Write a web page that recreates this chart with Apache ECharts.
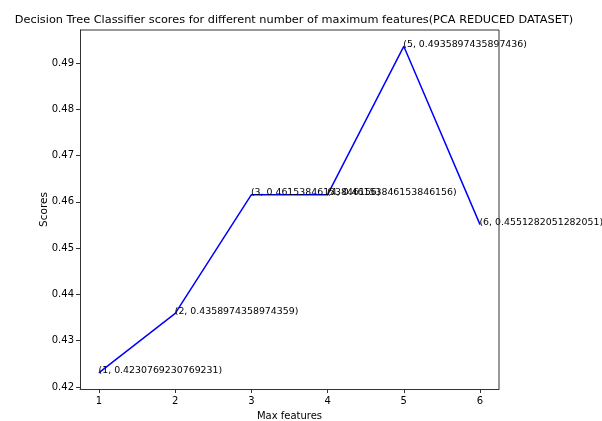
<!DOCTYPE html>
<html>
<head>
<meta charset="utf-8">
<script src="https://cdn.jsdelivr.net/npm/echarts@6/dist/echarts.min.js"></script>
<style>
  html, body { margin: 0; padding: 0; background: #fff; }
  #chart { width: 602px; height: 421px; }
</style>
</head>
<body>
<div id="chart"></div>
<script>
// Decision tree accuracy for each max_features setting
const maxFeatures = [1, 2, 3, 4, 5, 6];
const scores = [
  0.4230769230769231,
  0.4358974358974359,
  0.46153846153846156,
  0.46153846153846156,
  0.4935897435897436,
  0.4551282051282051
];
const xTicks = [1, 2, 3, 4, 5, 6];
const yTicks = [0.42, 0.43, 0.44, 0.45, 0.46, 0.47, 0.48, 0.49];

// 5% padding around the data range on both axes
const xPad = (Math.max(...maxFeatures) - Math.min(...maxFeatures)) * 0.05;
const yPad = (Math.max(...scores) - Math.min(...scores)) * 0.05;
const xMin = Math.min(...maxFeatures) - xPad, xMax = Math.max(...maxFeatures) + xPad;
const yMin = Math.min(...scores) - yPad, yMax = Math.max(...scores) + yPad;

const FONT = 'DejaVu Sans';
const axisColor = '#333';

const chart = echarts.init(document.getElementById('chart'), null, { renderer: 'canvas' });
chart.setOption({
  animation: false,
  backgroundColor: '#fff',
  title: {
    text: 'Decision Tree Classifier scores for different number of maximum features(PCA REDUCED DATASET)',
    left: 289, textAlign: 'center', top: 10,
    textStyle: { fontFamily: FONT, fontSize: 11.3, fontWeight: 'normal', color: '#000' }
  },
  grid: { left: 80, right: 103, top: 30, bottom: 32, outerBoundsMode: 'none', containLabel: false },
  xAxis: {
    type: 'value', min: xMin, max: xMax,
    name: 'Max features', nameLocation: 'middle', nameGap: 22,
    nameTextStyle: { fontFamily: FONT, fontSize: 10, color: '#000' },
    splitLine: { show: false },
    axisLine: { show: true, lineStyle: { color: axisColor, width: 1 } },
    axisTick: { show: true, customValues: xTicks, length: 4, lineStyle: { color: axisColor } },
    axisLabel: { customValues: xTicks, fontFamily: FONT, fontSize: 10, color: '#000', margin: 7 }
  },
  yAxis: {
    type: 'value', min: yMin, max: yMax,
    name: 'Scores', nameLocation: 'middle', nameGap: 30, nameRotate: 90,
    nameMoveOverlap: false,
    nameTextStyle: { fontFamily: FONT, fontSize: 10.5, color: '#000' },
    splitLine: { show: false },
    axisLine: { show: true, lineStyle: { color: axisColor, width: 1 } },
    axisTick: { show: true, customValues: yTicks, length: 4, lineStyle: { color: axisColor } },
    axisLabel: {
      customValues: yTicks, fontFamily: FONT, fontSize: 10, color: '#000', margin: 6,
      formatter: v => v.toFixed(2)
    }
  },
  series: [{
    type: 'line',
    data: maxFeatures.map((f, i) => [f, scores[i]]),
    showSymbol: true,
    symbol: 'circle',
    symbolSize: 1,
    itemStyle: { color: '#0000ff' },
    lineStyle: { color: '#0000ff', width: 1.5 },
    label: {
      show: true,
      position: [0, 3],
      align: 'left',
      verticalAlign: 'bottom',
      fontFamily: FONT, fontSize: 9.4, color: '#000',
      formatter: p => '(' + p.value[0] + ', ' + String(p.value[1]) + ')'
    },
    labelLayout: { hideOverlap: false }
  }]
});

// top and right spines
const tl = chart.convertToPixel({ gridIndex: 0 }, [xMin, yMax]);
const br = chart.convertToPixel({ gridIndex: 0 }, [xMax, yMin]);
chart.setOption({
  graphic: [
    { type: 'polyline', shape: { points: [[tl[0], tl[1]], [br[0], tl[1]], [br[0], br[1]]] },
      style: { stroke: axisColor, lineWidth: 1, fill: null }, z: 10 }
  ]
});
</script>
</body>
</html>
